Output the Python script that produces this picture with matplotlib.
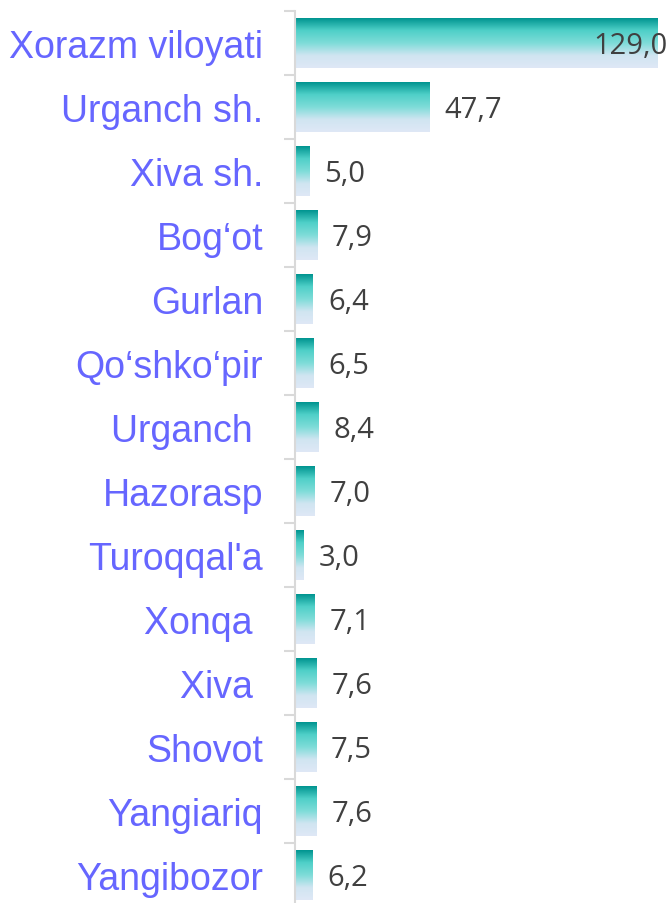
import numpy as np
import matplotlib.pyplot as plt
from matplotlib.colors import LinearSegmentedColormap

# Data
districts = ["Xorazm viloyati", "Urganch sh.", "Xiva sh.", "Bog\u2018ot", "Gurlan",
             "Qo\u2018shko\u2018pir", "Urganch ", "Hazorasp", "Turoqqal'a", "Xonqa ",
             "Xiva ", "Shovot", "Yangiariq", "Yangibozor"]
values = [129.0, 47.7, 5.0, 7.9, 6.4, 6.5, 8.4, 7.0, 3.0, 7.1, 7.6, 7.5, 7.6, 6.2]

fig = plt.figure(figsize=(6.68, 9.04), dpi=100)
# axes spans from the first category boundary to just below the image
ax = fig.add_axes([295 / 668, -4 / 904, 373 / 668, 896 / 904])

grad = LinearSegmentedColormap.from_list(
    "tealfade", [(0.0, "#009490"), (0.25, "#4fd0c8"), (0.5, "#7edcd8"),
                 (0.75, "#d0e5f1"), (1.0, "#dfe8f6")])

y = np.arange(len(values))
bar_h = 0.77
bars = ax.barh(y, values, height=bar_h, color="none", edgecolor="none")
gradient = np.linspace(0, 1, 256).reshape(-1, 1)
for b, yi, v in zip(bars, y, values):
    im = ax.imshow(gradient, cmap=grad, aspect="auto", origin="upper",
                   extent=(0, v, yi + bar_h / 2, yi - bar_h / 2), zorder=2)
    im.set_clip_path(b)

xmax = 373 / 2.81
ax.set_xlim(0, xmax)
ax.set_ylim(len(values) - 0.5, -0.5)

# value labels
for yi, v in zip(y, values):
    txt = f"{v:.1f}".replace(".", ",")
    if v == max(values):
        ax.text(xmax, yi + 0.04, txt, ha="right", va="center", fontsize=21,
                family="Open Sans", color="#404040", zorder=3, clip_on=False)
    else:
        ax.text(v + 5.3, yi + 0.04, txt, ha="left", va="center", fontsize=21,
                family="Open Sans", color="#404040", zorder=3)

# axis styling
for s in ["top", "right", "bottom"]:
    ax.spines[s].set_visible(False)
ax.spines["left"].set_color("#d9d9d9")
ax.spines["left"].set_linewidth(1.5)
ax.set_xticks([])
ax.set_yticks(y)
ax.set_yticklabels(districts, fontsize=27, family="Liberation Sans", color="#6666ff")
ax.tick_params(axis="y", which="major", length=0, pad=23)
ax.set_yticks(np.arange(-0.5, len(values), 1), minor=True)
ax.tick_params(axis="y", which="minor", length=8, width=1.5, color="#d9d9d9")

fig.savefig("out.png", dpi=100)
